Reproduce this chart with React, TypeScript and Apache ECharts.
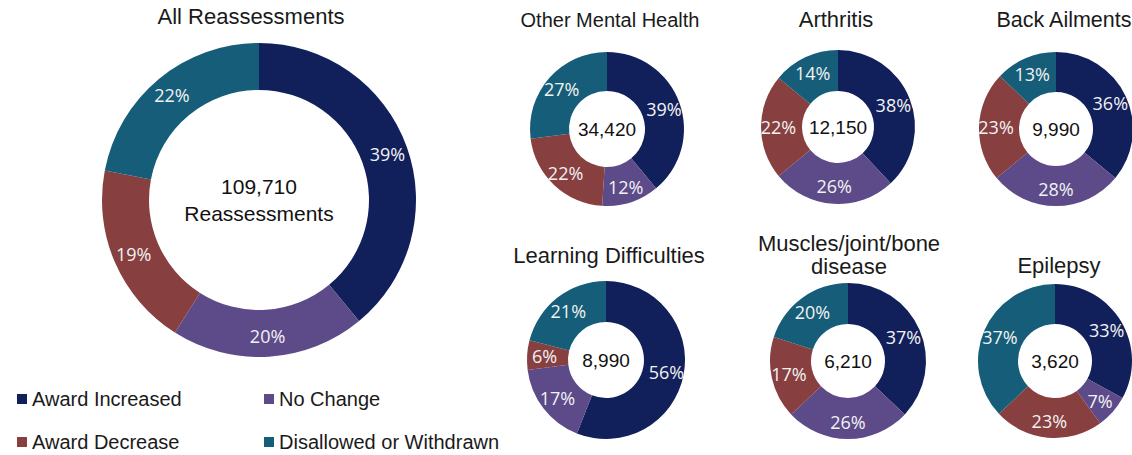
import React, { useEffect, useRef } from "react";
import * as echarts from "echarts";

const categories = ["Award Increased", "No Change", "Award Decrease", "Disallowed or Withdrawn"];
const colors = ["#11205b", "#5d4a89", "#873f40", "#155d78"];

const groupNames = ["All Reassessments", "Other Mental Health", "Arthritis", "Back Ailments", "Learning Difficulties", "Muscles/joint/bone\ndisease", "Epilepsy"];
const groupTotals = ["109,710\nReassessments", "34,420", "12,150", "9,990", "8,990", "6,210", "3,620"];

const allReassessments = [39, 20, 19, 22];
const otherMentalHealth = [39, 12, 22, 27];
const arthritis = [38, 26, 22, 14];
const backAilments = [36, 28, 23, 13];
const learningDifficulties = [56, 17, 6, 21];
const musclesJointBone = [37, 26, 17, 20];
const epilepsy = [33, 7, 23, 37];

const groupValues = [allReassessments, otherMentalHealth, arthritis, backAilments, learningDifficulties, musclesJointBone, epilepsy];

// layout: center x, center y, inner r, outer r, title x, title top, title font size
const layout = [
  { cx: 259, cy: 200, ri: 110, ro: 157, tx: 251, ty: 5, fs: 22 },
  { cx: 607, cy: 129, ri: 38, ro: 77, tx: 610, ty: 8, fs: 20 },
  { cx: 838, cy: 127, ri: 36, ro: 77, tx: 836, ty: 8, fs: 22 },
  { cx: 1056, cy: 129, ri: 37, ro: 77, tx: 1064, ty: 8, fs: 21.5 },
  { cx: 606, cy: 360, ri: 38, ro: 79, tx: 609, ty: 244, fs: 22 },
  { cx: 848, cy: 361, ri: 37, ro: 78, tx: 849, ty: 232, fs: 22 },
  { cx: 1055, cy: 361, ri: 37, ro: 77, tx: 1059, ty: 254, fs: 22 },
];

export default function App() {
  const ref = useRef<HTMLDivElement>(null);
  useEffect(() => {
    document.body.style.margin = "0";
    const chart = echarts.init(ref.current!, null, { renderer: "svg" });
    const font = "'Liberation Sans', Arial, sans-serif";
    const titles: any[] = [];
    const series: any[] = [];
    groupNames.forEach((name, i) => {
      const L = layout[i];
      titles.push({
        text: name,
        left: L.tx,
        top: L.ty,
        padding: 0,
        textAlign: "center",
        textStyle: { fontFamily: font, fontSize: L.fs, fontWeight: "normal", color: "#1a1a1a", lineHeight: 23 },
      });
      titles.push({
        text: groupTotals[i],
        left: L.cx,
        top: L.cy,
        padding: 0,
        textAlign: "center",
        textVerticalAlign: "middle",
        textStyle: { fontFamily: font, fontSize: i === 0 ? 21 : 19, fontWeight: "normal", color: "#111", lineHeight: 27 },
      });
      series.push({
        type: "pie",
        name,
        center: [L.cx, L.cy],
        radius: [L.ri, L.ro],
        startAngle: 90,
        clockwise: true,
        avoidLabelOverlap: false,
        emphasis: { disabled: true },
        label: {
          show: true,
          position: "inside",
          formatter: "{c}%",
          color: "#f2f2f2",
          fontFamily: "'Open Sans', 'Noto Sans', sans-serif",
          fontSize: 18,
        },
        labelLine: { show: false },
        itemStyle: { borderWidth: 0 },
        data: categories.map((c, k) => ({ name: c, value: groupValues[i][k], itemStyle: { color: colors[k] } })),
      });
    });
    const legendText = { fontFamily: font, fontSize: 20, color: "#1a1a1a", lineHeight: 20 };
    const legendBase = {
      orient: "vertical",
      top: 389,
      height: 66,
      padding: 0,
      itemWidth: 10,
      itemHeight: 10,
      itemGap: 23,
      icon: "rect",
      selectedMode: false,
      textStyle: legendText,
    };
    chart.setOption({
      animation: false,
      color: colors,
      title: titles,
      legend: [
        { ...legendBase, data: [categories[0], categories[2]], left: 17 },
        { ...legendBase, data: [categories[1], categories[3]], left: 264 },
      ],
      series,
    });
    return () => chart.dispose();
  }, []);
  return <div ref={ref} style={{ width: 1132, height: 455, background: "#fff" }} />;
}
